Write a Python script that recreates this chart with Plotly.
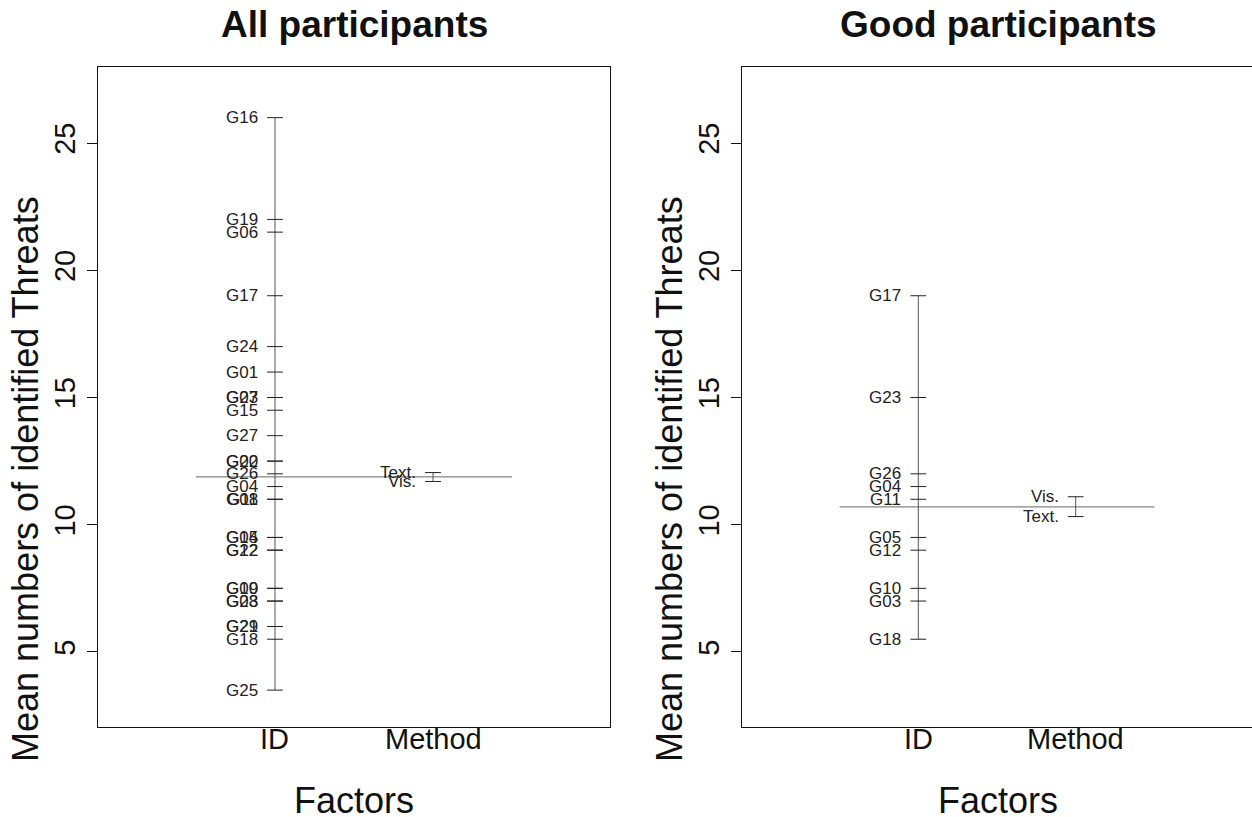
import plotly.graph_objects as go

# ---------------- data ----------------
all_ids = ["G16", "G19", "G06", "G17", "G24", "G01", "G07", "G23", "G15", "G27",
           "G02", "G20", "G26", "G04", "G08", "G11", "G05", "G14", "G12", "G22",
           "G09", "G10", "G03", "G28", "G21", "G29", "G18", "G25"]
all_id_means = [26, 22, 21.5, 19, 17, 16, 15, 15, 14.5, 13.5,
                12.5, 12.5, 12, 11.5, 11, 11, 9.5, 9.5, 9, 9,
                7.5, 7.5, 7, 7, 6, 6, 5.5, 3.5]
all_methods = ["Text.", "Vis."]
all_method_means = [12.05, 11.7]
all_grand_mean = 11.88

good_ids = ["G17", "G23", "G26", "G04", "G11", "G05", "G12", "G10", "G03", "G18"]
good_id_means = [19, 15, 12, 11.5, 11, 9.5, 9, 7.5, 7, 5.5]
good_methods = ["Vis.", "Text."]
good_method_means = [11.1, 10.32]
good_grand_mean = 10.7

factors = ["ID", "Method"]
factor_pos = [1, 2]
y_ticks = [5, 10, 15, 20, 25]
titles = ["All participants", "Good participants"]

# ---------------- layout helpers ----------------
W, H = 1252, 817
FONT = "Liberation Sans, Arial, Helvetica, sans-serif"
TICK_HALF = 0.05

fig = go.Figure()

panels = [
    (all_ids, all_id_means, all_methods, all_method_means, all_grand_mean),
    (good_ids, good_id_means, good_methods, good_method_means, good_grand_mean),
]
x_domains = [[98 / W, 610 / W], [742 / W, 1.0]]
y_domain = [1 - 727 / H, 1 - 67 / H]
title_cx = [354 / W, 998 / W]

for i, (ids, idm, meths, mm, gm) in enumerate(panels):
    xa = "x" if i == 0 else "x2"
    ya = "y" if i == 0 else "y2"
    # grand mean line
    fig.add_trace(go.Scatter(x=[0.5, 2.5], y=[gm, gm], mode="lines",
                             line=dict(color="#666666", width=1),
                             xaxis=xa, yaxis=ya, hoverinfo="skip", showlegend=False))
    for fx, names, vals in [(factor_pos[0], ids, idm), (factor_pos[1], meths, mm)]:
        # vertical range line
        fig.add_trace(go.Scatter(x=[fx, fx], y=[min(vals), max(vals)], mode="lines",
                                 line=dict(color="#555555", width=1),
                                 xaxis=xa, yaxis=ya, hoverinfo="skip", showlegend=False))
        # ticks
        xs, ys = [], []
        for v in vals:
            xs += [fx - TICK_HALF, fx + TICK_HALF, None]
            ys += [v, v, None]
        fig.add_trace(go.Scatter(x=xs, y=ys, mode="lines",
                                 line=dict(color="#222222", width=1),
                                 xaxis=xa, yaxis=ya, hoverinfo="skip", showlegend=False))
        for n, v in zip(names, vals):
            fig.add_annotation(x=fx - TICK_HALF, y=v, xref=xa, yref=ya, text=n,
                               showarrow=False, xanchor="right", yanchor="middle",
                               xshift=-7, font=dict(size=17, color="#222222", family=FONT))

    # factor labels under the box
    for fx, lab in zip(factor_pos, factors):
        fig.add_annotation(x=fx, y=y_domain[0], xref=xa, yref="paper", text=lab,
                           showarrow=False, xanchor="center", yanchor="top", yshift=6,
                           font=dict(size=29, color="#111111", family=FONT))

    # titles
    cx = title_cx[i]
    fig.add_annotation(x=cx, y=1 - 25 / H, xref="paper", yref="paper",
                       text="<b>%s</b>" % titles[i], showarrow=False,
                       xanchor="center", yanchor="middle",
                       font=dict(size=37, color="#111111", family=FONT))
    fig.add_annotation(x=cx, y=1 - 800 / H, xref="paper", yref="paper",
                       text="Factors", showarrow=False,
                       xanchor="center", yanchor="middle",
                       font=dict(size=36, color="#111111", family=FONT))
    left_px = x_domains[i][0] * W
    fig.add_annotation(x=(left_px - 73) / W, y=1 - 479 / H,
                       xref="paper", yref="paper", textangle=-90,
                       xanchor="center", yanchor="middle",
                       text="Mean numbers of identified Threats", showarrow=False,
                       font=dict(size=36, color="#111111", family=FONT))

axis_common_x = dict(range=[-0.12, 3.12], tickvals=[], showticklabels=False,
                     showline=True, mirror=True, linecolor="#111111", linewidth=1,
                     ticks="", showgrid=False, zeroline=False, fixedrange=True)
axis_common_y = dict(range=[2.05, 27.99], tickvals=y_ticks,
                     showline=True, mirror=True, linecolor="#111111", linewidth=1,
                     ticks="outside", ticklen=10, tickcolor="#111111",
                     showgrid=False, zeroline=False, tickangle=-90,
                     tickfont=dict(size=29, color="#111111", family=FONT),
                     domain=y_domain, fixedrange=True)

fig.update_layout(
    width=W, height=H,
    margin=dict(l=0, r=0, t=0, b=0),
    paper_bgcolor="white", plot_bgcolor="white",
    xaxis=dict(domain=x_domains[0], anchor="y", **axis_common_x),
    yaxis=dict(anchor="x", **axis_common_y),
    xaxis2=dict(domain=x_domains[1], anchor="y2", **axis_common_x),
    yaxis2=dict(anchor="x2", **axis_common_y),
    showlegend=False,
)

fig.write_html("out.html")
